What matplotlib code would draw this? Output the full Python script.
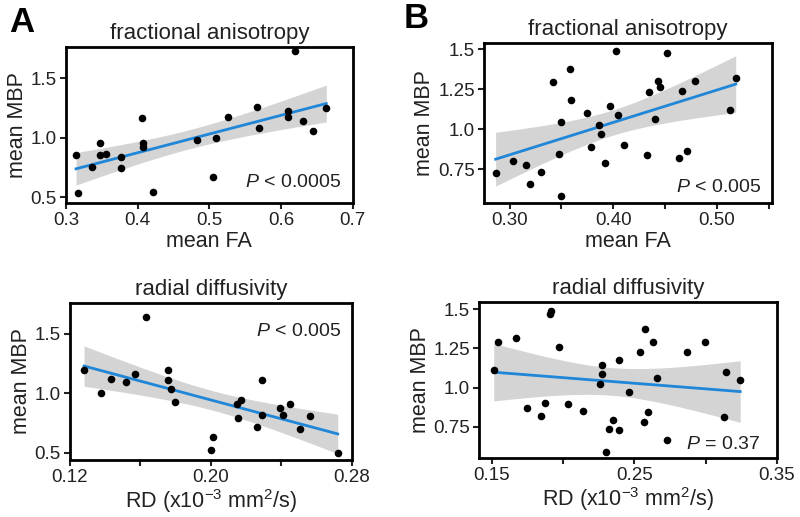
import numpy as np
import matplotlib
matplotlib.use("Agg")
import matplotlib.pyplot as plt

plt.rcParams['font.family'] = ['Liberation Sans', 'DejaVu Sans']
plt.rcParams['mathtext.fontset'] = 'custom'
plt.rcParams['mathtext.rm'] = 'Liberation Sans'
plt.rcParams['mathtext.it'] = 'Liberation Sans:italic'

# A, fractional anisotropy
fa_a_x = [0.314, 0.317, 0.336, 0.347, 0.347, 0.356, 0.377, 0.377, 0.406, 0.407, 0.408, 0.422,
          0.483, 0.505, 0.509, 0.526, 0.566, 0.569, 0.610, 0.610, 0.620, 0.630, 0.644, 0.663]
fa_a_y = [0.854, 0.532, 0.750, 0.958, 0.854, 0.860, 0.840, 0.742, 1.162, 0.924, 0.952, 0.546,
          0.980, 0.667, 0.994, 1.171, 1.260, 1.084, 1.227, 1.176, 1.723, 1.143, 1.056, 1.252]

# B, fractional anisotropy
fa_b_x = [0.2865, 0.303, 0.316, 0.320, 0.330, 0.342, 0.348, 0.350, 0.350, 0.358, 0.359, 0.375,
          0.379, 0.3865, 0.388, 0.3925, 0.397, 0.403, 0.405, 0.410, 0.4325, 0.435, 0.440, 0.443,
          0.445, 0.4516, 0.464, 0.4665, 0.471, 0.4786, 0.5125, 0.5183]
fa_b_y = [0.725, 0.804, 0.777, 0.659, 0.731, 1.296, 0.846, 1.047, 0.580, 1.379, 1.182, 1.099,
          0.891, 1.026, 0.970, 0.792, 1.147, 1.490, 1.089, 0.902, 0.839, 1.234, 1.064, 1.303,
          1.265, 1.477, 0.820, 1.238, 0.864, 1.300, 1.120, 1.323]

# A, radial diffusivity
rd_a_x = [0.128, 0.1378, 0.1431, 0.1518, 0.1569, 0.1632, 0.1755, 0.1755, 0.1774, 0.1798, 0.1999, 0.2014,
          0.215, 0.2154, 0.2169, 0.226, 0.2287, 0.2287, 0.2393, 0.2411, 0.2446, 0.2507, 0.256, 0.2719]
rd_a_y = [1.191, 1.006, 1.121, 1.090, 1.160, 1.640, 1.197, 1.112, 1.034, 0.930, 0.522, 0.635,
          0.907, 0.789, 0.944, 0.719, 1.112, 0.815, 0.874, 0.817, 0.910, 0.699, 0.812, 0.500]

# B, radial diffusivity
rd_b_x = [0.1512, 0.1542, 0.1667, 0.1743, 0.1847, 0.1875, 0.1905, 0.1917, 0.197, 0.2037, 0.2137, 0.226,
          0.2275, 0.2275, 0.2303, 0.232, 0.235, 0.2394, 0.2394, 0.2465, 0.2542, 0.2565, 0.2576, 0.2593,
          0.2634, 0.2662, 0.2727, 0.2866, 0.2993, 0.3127, 0.3144, 0.3243]
rd_b_y = [1.112, 1.292, 1.317, 0.869, 0.822, 0.901, 1.467, 1.488, 1.260, 0.894, 0.852, 1.021,
          1.144, 1.085, 0.592, 0.736, 0.795, 1.175, 0.732, 0.975, 1.226, 0.784, 1.372, 0.848,
          1.292, 1.059, 0.668, 1.228, 1.292, 0.810, 1.097, 1.049]

BLUE = '#1f86d8'
BAND = '#d4d4d4'
INK = '#222222'


def t_crit(df):
    # Cornish-Fisher approximation of two-sided 95% t value
    z = 1.959964
    return z + (z**3 + z) / (4 * df) + (5 * z**5 + 16 * z**3 + 3 * z) / (96 * df**2)


def regpanel(ax, x, y, title, ptext, ppos, xlim, ylim, xticks, xlabels, yticks, ylabels, xlabel):
    x = np.asarray(x)
    y = np.asarray(y)
    n = len(x)
    b, a = np.polyfit(x, y, 1)
    xs = np.linspace(x.min(), x.max(), 100)
    yfit = a + b * xs
    resid = y - (a + b * x)
    s = np.sqrt(np.sum(resid**2) / (n - 2))
    sxx = np.sum((x - x.mean())**2)
    se = s * np.sqrt(1 / n + (xs - x.mean())**2 / sxx)
    t = t_crit(n - 2)
    ax.fill_between(xs, yfit - t * se, yfit + t * se, color=BAND, lw=0, zorder=1)
    ax.plot(xs, yfit, color=BLUE, lw=2, zorder=2)
    ax.scatter(x, y, s=30, color='black', zorder=3, linewidths=0)
    ax.set_xlim(*xlim)
    ax.set_ylim(*ylim)
    ax.set_xticks(xticks)
    ax.set_xticklabels(xlabels)
    ax.set_yticks(yticks)
    ax.set_yticklabels(ylabels)
    ax.tick_params(labelsize=13.5, width=1.5, length=4.5, pad=2, colors=INK)
    for sp in ax.spines.values():
        sp.set_linewidth(2)
        sp.set_color('black')
    ax.set_title(title, fontsize=16, pad=6, color=INK)
    ax.set_xlabel(xlabel, fontsize=15.5, labelpad=1, color=INK)
    ax.set_ylabel('mean MBP', fontsize=15.5, labelpad=2, color=INK)
    ax.text(ppos[0], ppos[1], ptext, transform=ax.transAxes, ha='right', va='center',
            fontsize=14, color=INK)


fig = plt.figure(figsize=(8, 5.17), dpi=100)

ax1 = fig.add_axes([0.0825, 0.607, 0.3585, 0.302])
regpanel(ax1, fa_a_x, fa_a_y, 'fractional anisotropy', '$P$ < 0.0005', (0.96, 0.13),
         (0.3, 0.7), (0.45, 1.76), [0.3, 0.4, 0.5, 0.6, 0.7], ['0.3', '0.4', '0.5', '0.6', '0.7'],
         [0.5, 1.0, 1.5], ['0.5', '1.0', '1.5'], 'mean FA')

ax2 = fig.add_axes([0.605, 0.607, 0.3596, 0.31])
regpanel(ax2, fa_b_x, fa_b_y, 'fractional anisotropy', '$P$ < 0.005', (0.965, 0.095),
         (0.2753, 0.553), (0.538, 1.54), [0.30, 0.35, 0.40, 0.45, 0.50, 0.55],
         ['0.30', '', '0.40', '', '0.50', ''],
         [0.75, 1.0, 1.25, 1.5], ['0.75', '1.0', '1.25', '1.5'], 'mean FA')

ax3 = fig.add_axes([0.0875, 0.110, 0.3525, 0.304])
regpanel(ax3, rd_a_x, rd_a_y, 'radial diffusivity', '$P$ < 0.005', (0.96, 0.82),
         (0.12, 0.28), (0.438, 1.758), [0.12, 0.16, 0.20, 0.24, 0.28],
         ['0.12', '', '0.20', '', '0.28'],
         [0.5, 1.0, 1.5], ['0.5', '1.0', '1.5'], 'RD (x10$^{-3}$ mm$^{2}$/s)')

ax4 = fig.add_axes([0.599, 0.114, 0.372, 0.302])
regpanel(ax4, rd_b_x, rd_b_y, 'radial diffusivity', '$P$ = 0.37', (0.943, 0.085),
         (0.141, 0.35), (0.552, 1.545), [0.15, 0.20, 0.25, 0.30, 0.35],
         ['0.15', '', '0.25', '', '0.35'],
         [0.75, 1.0, 1.25, 1.5], ['0.75', '1.0', '1.25', '1.5'], 'RD (x10$^{-3}$ mm$^{2}$/s)')

fig.text(0.012, 0.988, 'A', fontsize=25, fontweight='bold', va='top', ha='left')
fig.text(0.505, 0.996, 'B', fontsize=25, fontweight='bold', va='top', ha='left')

fig.savefig('out.png', dpi=100)
